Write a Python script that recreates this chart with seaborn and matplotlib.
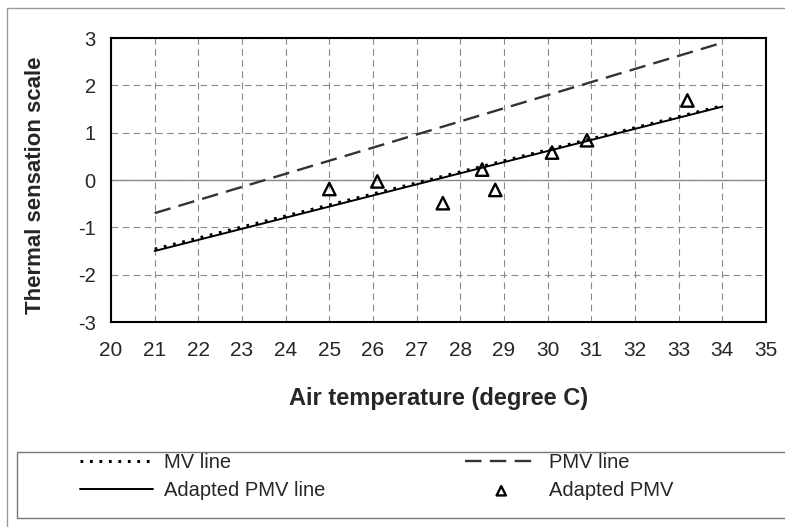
import matplotlib
matplotlib.use("Agg")
import matplotlib.pyplot as plt
from matplotlib.patches import Rectangle
import seaborn as sns
import pandas as pd

# ---- data ----
x_ticks = [20, 21, 22, 23, 24, 25, 26, 27, 28, 29, 30, 31, 32, 33, 34, 35]
y_ticks = [-3, -2, -1, 0, 1, 2, 3]

pmv_x = [21, 34]
pmv_y = [-0.70, 2.90]

mv_x = [21, 34]
mv_y = [-1.46, 1.57]

adapted_line_x = [21, 34]
adapted_line_y = [-1.50, 1.55]

adapted_pts_x = [25.0, 26.1, 27.6, 28.5, 28.8, 30.1, 30.9, 33.2]
adapted_pts_y = [-0.19, -0.03, -0.49, 0.22, -0.21, 0.58, 0.84, 1.68]

# ---- style ----
sns.set_style("white")
plt.rcParams["font.family"] = ["Liberation Sans", "DejaVu Sans"]

W, H = 785, 527
fig = plt.figure(figsize=(W / 100, H / 100), dpi=100)
ax = fig.add_axes([111 / W, 1 - 322 / H, 655 / W, 284 / H])

grid_col = "#8a8a8a"
ax.set_xlim(20, 35)
ax.set_ylim(-3, 3)
ax.set_xticks(x_ticks)
ax.set_xticklabels([str(v) for v in x_ticks])
ax.set_yticks(y_ticks)
ax.set_yticklabels([str(v) for v in y_ticks])
ax.grid(True, color=grid_col, lw=0.8, ls=(0, (6, 4)), zorder=0)
ax.set_axisbelow(True)
ax.axhline(0, color=grid_col, lw=1.0, zorder=1)

# lines
sns.lineplot(x=pmv_x, y=pmv_y, ax=ax, color="#333333", lw=1.7,
             linestyle=(0, (7, 3.5)), label="PMV line", zorder=3)
sns.lineplot(x=adapted_line_x, y=adapted_line_y, ax=ax, color="black", lw=1.4,
             linestyle="-", label="Adapted PMV line", zorder=3)
sns.lineplot(x=mv_x, y=mv_y, ax=ax, color="black", lw=2.2,
             linestyle=(0, (0.9, 2.2)), label="MV line", zorder=4)
sns.scatterplot(x=adapted_pts_x, y=adapted_pts_y, ax=ax, marker="^", s=80,
                facecolor="none", edgecolor="black", linewidth=1.7,
                label="Adapted PMV", zorder=5)

if ax.get_legend() is not None:
    ax.get_legend().remove()

for s in ax.spines.values():
    s.set_color("black")
    s.set_linewidth(1.5)
    s.set_visible(True)

ax.tick_params(axis="both", length=0)
ax.tick_params(axis="x", pad=14, labelsize=15)
ax.tick_params(axis="y", pad=11, labelsize=14.5)

ax.set_xlabel("Air temperature (degree C)", fontsize=17, fontweight="bold")
ax.xaxis.set_label_coords(0.5, -(387 - 322) / 284)
ax.xaxis.label.set_va("top")
ax.set_ylabel("Thermal sensation scale", fontsize=16, fontweight="bold")
ax.yaxis.set_label_coords((46 - 111) / 655, 0.48)

# legends
handles, labels = ax.get_legend_handles_labels()
hd = dict(zip(labels, handles))
common = dict(loc="upper left", frameon=False, borderpad=0, borderaxespad=0,
              handlelength=3.6, handletextpad=0.55, labelspacing=0.45,
              fontsize=14.5)
leg1 = fig.legend([hd["MV line"], hd["Adapted PMV line"]],
                  ["MV line", "Adapted PMV line"],
                  bbox_to_anchor=(80 / W, 1 - 453 / H), **common)
leg2 = fig.legend([hd["PMV line"], hd["Adapted PMV"]],
                  ["PMV line", "Adapted PMV"],
                  bbox_to_anchor=(465 / W, 1 - 453 / H), markerscale=0.75,
                  **common)

# legend frame and outer chart border
fig.add_artist(Rectangle((17 / W, 1 - 518 / H), (800 - 17) / W, 66 / H,
                         transform=fig.transFigure, fill=False,
                         ec="#777777", lw=1.0))
fig.add_artist(Rectangle((7 / W, -0.05), 1.1, (H - 8) / H + 0.05,
                         transform=fig.transFigure, fill=False,
                         ec="#999999", lw=1.0))

fig.savefig("out.png", dpi=100)
